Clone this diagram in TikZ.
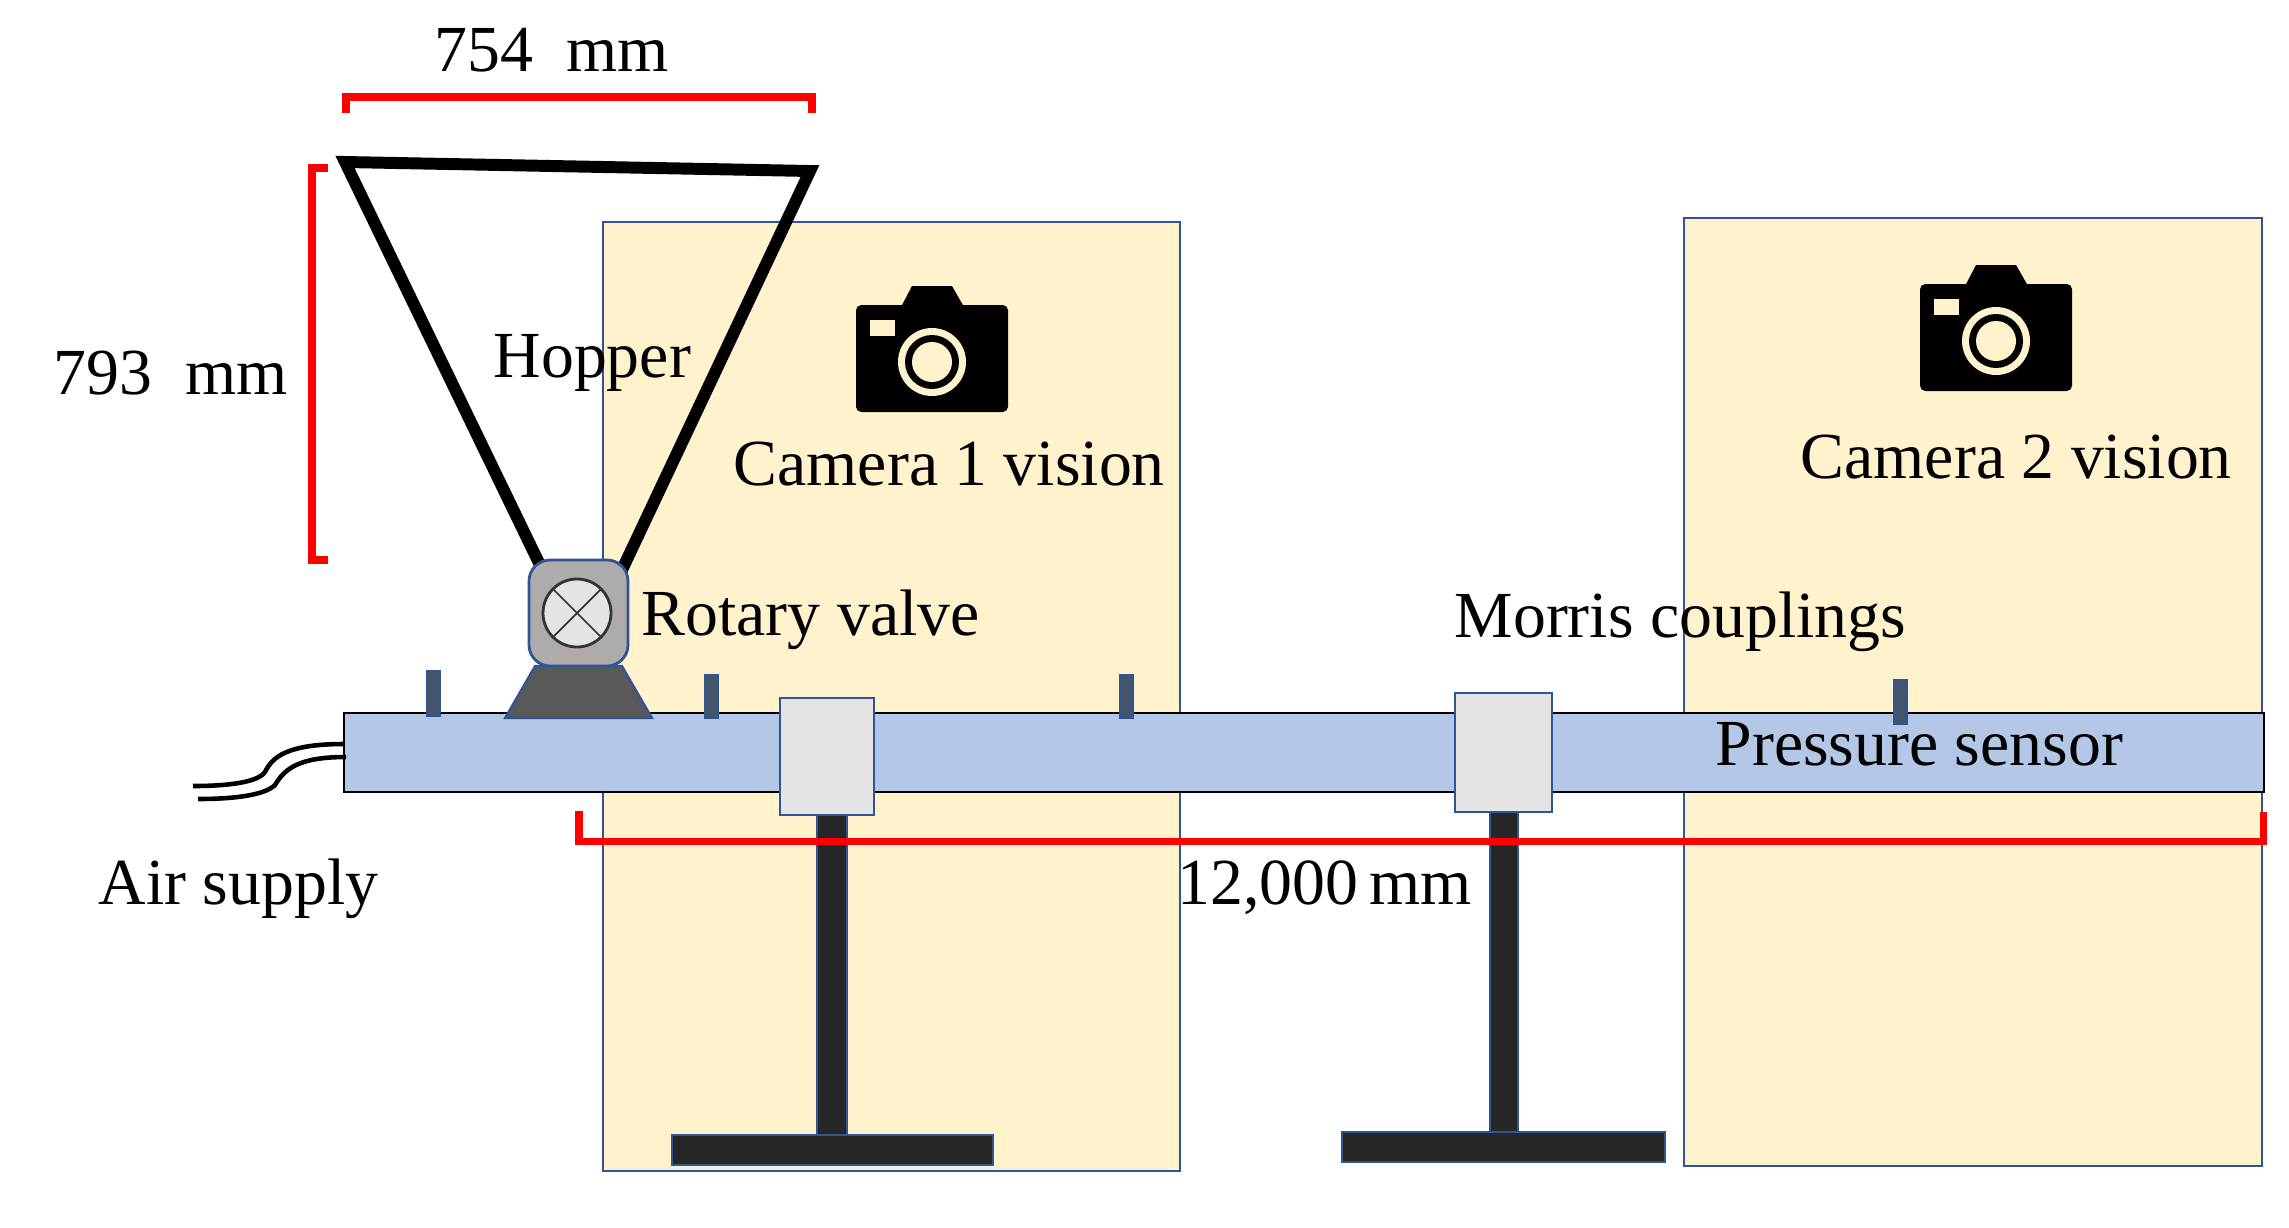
\documentclass[tikz,border=0pt]{standalone}
\usepackage{fontspec}
\setmainfont{Liberation Serif}
\usetikzlibrary{positioning,calc}
\definecolor{visionfill}{HTML}{FFF2CC}
\definecolor{edgeblue}{HTML}{2F5597}
\definecolor{pipefill}{HTML}{B4C7E7}
\definecolor{couplingfill}{HTML}{E4E4E4}
\definecolor{standfill}{HTML}{262626}
\definecolor{sensorfill}{HTML}{44546A}
\definecolor{valvefill}{HTML}{AFABAB}
\definecolor{seatfill}{HTML}{595959}
\tikzset{
vision/.style={fill=visionfill,draw=edgeblue,line width=0.6pt},
pipe/.style={fill=pipefill,draw=black,line width=0.8pt},
coupling/.style={fill=couplingfill,draw=edgeblue,line width=0.8pt},
stand/.style={fill=standfill,draw=edgeblue,line width=0.4pt},
sensor/.style={fill=sensorfill,draw=edgeblue,line width=0.4pt},
valve/.style={fill=valvefill,draw=edgeblue,line width=0.8pt,rounded corners=6pt},
seat/.style={fill=seatfill,draw=edgeblue,line width=0.6pt},
rotor/.style={fill=couplingfill,draw=black!80,line width=0.8pt},
hopperline/.style={line width=3.4pt,black},
redbracket/.style={red,line width=2pt},
airline/.style={black,line width=1.3pt},
label/.style={font=\fontsize{18.7}{22}\selectfont,anchor=base west,inner sep=0pt,text=black},
camera/.pic={
\fill[black,rounded corners=1.5pt] (856,305) rectangle (1008,412);
\fill[black] (901,307) -- (912,286) -- (952,286) -- (964,307) -- cycle;
\fill[visionfill] (870,320) rectangle (895,336);
\fill[visionfill] (932,362) circle[radius=34];
\fill[black] (932,362) circle[radius=27];
\fill[visionfill] (932,362) circle[radius=20];
}
}
\begin{document}
\begin{tikzpicture}[x=0.01cm,y=-0.01cm]
\useasboundingbox (0,0) rectangle (2289,1227);
\draw[vision] (603,222) rectangle (1180,1171);
\draw[vision] (1684,218) rectangle (2262,1166);
\pic at (0,0) {camera};
\pic at (1064,-21) {camera};
\draw[pipe] (344,713) rectangle (2264,792);
\draw[airline] (344,744) .. controls (285,744) and (272,758) .. (265,772) .. controls (258,782) and (230,786) .. (193,786);
\draw[airline] (346,757) .. controls (300,757) and (285,768) .. (275,785) .. controls (265,795) and (235,799) .. (198,799);
\foreach \xa/\ya/\yb in {427/671/716,705/675/718,1120/675/718,1894/680/724}
\draw[sensor] (\xa,\ya) rectangle ++(13,\yb-\ya);
\draw[seat] (535,666) -- (622,666) -- (652,718) -- (505,718) -- cycle;
\draw[hopperline,line join=miter] (540,565) -- (345,162) -- (810,171) -- (621,572);
\draw[valve] (529,560) rectangle (628,666);
\draw[rotor] (577,613) circle[radius=34];
\draw[black!80,line width=0.5pt] (577,613) ++(-24,-24) -- ++(48,48) ++(0,-48) -- ++(-48,48);
\draw[stand] (817,814) rectangle (847,1135);
\draw[stand] (672,1135) rectangle (993,1165);
\draw[stand] (1490,812) rectangle (1518,1132);
\draw[stand] (1342,1132) rectangle (1665,1162);
\draw[coupling] (780,698) rectangle (874,815);
\draw[coupling] (1455,693) rectangle (1552,812);
\draw[redbracket] (346,113) -- (346,97) -- (812,97) -- (812,113);
\draw[redbracket] (328,168) -- (312,168) -- (312,560) -- (328,560);
\draw[redbracket] (579,811) -- (579,841) -- (2263,841) -- (2263,812);
\node[label] (widthlabel) at (434,71) {754\ \ mm};
\node[label] (heightlabel) at (53,394) {793\ \ mm};
\node[label] (hopperlabel) at (493,377) {Hopper};
\node[label] (cameraone) at (733,485) {Camera 1 vision};
\node[label] (cameratwo) at (1800,478) {Camera 2 vision};
\node[label] (valvelabel) at (641,635) {Rotary valve};
\node[label] (couplinglabel) at (1454,637) {Morris couplings};
\node[label] (sensorlabel) at (1715,765) {Pressure sensor};
\node[label] (airlabel) at (98,904) {Air supply};
\node[label] (lengthlabel) at (1177,904) {12,000\,mm};
\end{tikzpicture}
\end{document}
